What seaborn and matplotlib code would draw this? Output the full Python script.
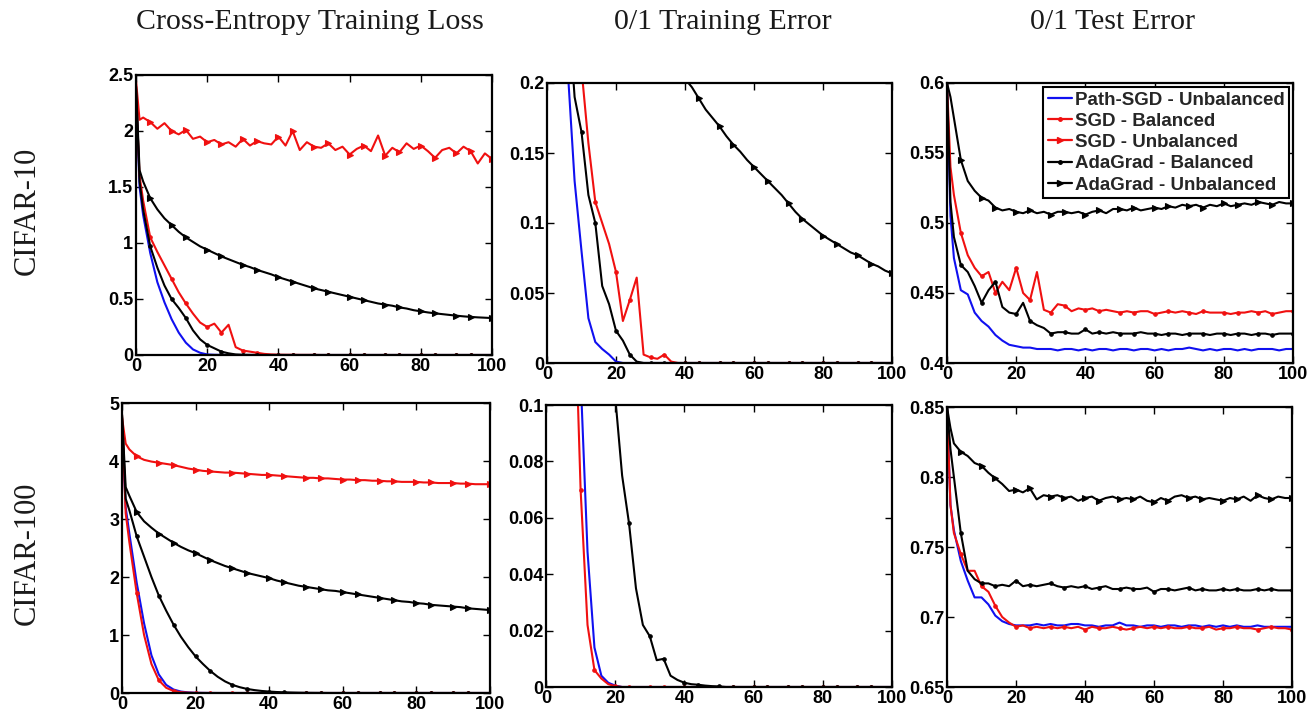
import matplotlib
matplotlib.use("Agg")
import matplotlib.pyplot as plt
from matplotlib.lines import Line2D
from matplotlib.ticker import FuncFormatter
import seaborn as sns

# ---------------- data ----------------
epochs = [0, 1, 2,
          4, 6, 8, 10, 12, 14, 16, 18, 20,
          22, 24, 26, 28, 30, 32, 34, 36, 38, 40,
          42, 44, 46, 48, 50, 52, 54, 56, 58, 60,
          62, 64, 66, 68, 70, 72, 74, 76, 78, 80,
          82, 84, 86, 88, 90, 92, 94, 96, 98, 100]

series_names = ["Path-SGD - Unbalanced", "SGD - Balanced", "SGD - Unbalanced",
                "AdaGrad - Balanced", "AdaGrad - Unbalanced"]
col_titles = ["Cross-Entropy Training Loss", "0/1 Training Error", "0/1 Test Error"]
row_labels = ["CIFAR-10", "CIFAR-100"]

# CIFAR-10, cross-entropy training loss
c10_loss_path = [2.35, 1.50, 1.25,
                 0.91, 0.65, 0.47, 0.32, 0.20, 0.11, 0.05, 0.02, 0.005,
                 0.002, 0.001, 0, 0, 0, 0, 0, 0, 0, 0,
                 0, 0, 0, 0, 0, 0, 0, 0, 0, 0,
                 0, 0, 0, 0, 0, 0, 0, 0, 0, 0,
                 0, 0, 0, 0, 0, 0, 0, 0, 0, 0]
c10_loss_sgd_bal = [2.35, 1.60, 1.38,
                    1.05, 0.92, 0.80, 0.68, 0.56, 0.46, 0.37, 0.29, 0.25,
                    0.28, 0.20, 0.27, 0.07, 0.04, 0.03, 0.02, 0.01, 0.005, 0.003,
                    0.002, 0.002, 0.001, 0.001, 0.001, 0, 0, 0, 0, 0,
                    0, 0, 0, 0, 0, 0, 0, 0, 0, 0,
                    0, 0, 0, 0, 0, 0, 0, 0, 0, 0]
c10_loss_sgd_unbal = [2.45, 2.10, 2.12,
                      2.08, 2.02, 2.07, 2.00, 1.97, 2.01, 1.93, 1.95, 1.90,
                      1.92, 1.88, 1.90, 1.86, 1.93, 1.87, 1.91, 1.89, 1.88, 1.95,
                      1.87, 2.00, 1.83, 1.90, 1.86, 1.85, 1.89, 1.83, 1.86, 1.79,
                      1.84, 1.87, 1.82, 1.96, 1.78, 1.85, 1.81, 1.89, 1.84, 1.87,
                      1.82, 1.76, 1.83, 1.85, 1.80, 1.86, 1.82, 1.71, 1.80, 1.75]
c10_loss_ada_bal = [2.40, 1.55, 1.30,
                    0.97, 0.78, 0.62, 0.50, 0.42, 0.33, 0.22, 0.14, 0.09,
                    0.06, 0.03, 0.015, 0.005, 0.002, 0.001, 0, 0, 0, 0,
                    0, 0, 0, 0, 0, 0, 0, 0, 0, 0,
                    0, 0, 0, 0, 0, 0, 0, 0, 0, 0,
                    0, 0, 0, 0, 0, 0, 0, 0, 0, 0]
c10_loss_ada_unbal = [2.40, 1.65, 1.55,
                      1.40, 1.30, 1.22, 1.16, 1.10, 1.05, 1.01, 0.97, 0.94,
                      0.91, 0.88, 0.855, 0.83, 0.805, 0.785, 0.76, 0.74, 0.72, 0.695,
                      0.675, 0.655, 0.635, 0.615, 0.595, 0.58, 0.565, 0.55, 0.535, 0.52,
                      0.505, 0.49, 0.475, 0.46, 0.45, 0.44, 0.425, 0.415, 0.40, 0.39,
                      0.38, 0.372, 0.365, 0.358, 0.351, 0.345, 0.34, 0.336, 0.333, 0.33]

# CIFAR-10, 0/1 training error (SGD - Unbalanced stays above the axis range)
c10_err_path = [0.90, 0.62, 0.50,
                0.33, 0.21, 0.13, 0.08, 0.032, 0.015, 0.010, 0.006, 0.001,
                0, 0, 0, 0, 0, 0, 0, 0, 0, 0,
                0, 0, 0, 0, 0, 0, 0, 0, 0, 0,
                0, 0, 0, 0, 0, 0, 0, 0, 0, 0,
                0, 0, 0, 0, 0, 0, 0, 0, 0, 0]
c10_err_sgd_bal = [0.90, 0.70, 0.60,
                   0.42, 0.32, 0.25, 0.21, 0.157, 0.115, 0.10, 0.085, 0.065,
                   0.03, 0.045, 0.061, 0.006, 0.004, 0.003, 0.006, 0.001, 0, 0,
                   0, 0, 0, 0, 0, 0, 0, 0, 0, 0,
                   0, 0, 0, 0, 0, 0, 0, 0, 0, 0,
                   0, 0, 0, 0, 0, 0, 0, 0, 0, 0]
c10_err_ada_bal = [0.90, 0.68, 0.55,
                   0.36, 0.26, 0.19, 0.165, 0.12, 0.10, 0.055, 0.042, 0.023,
                   0.016, 0.006, 0.001, 0, 0, 0, 0, 0, 0, 0,
                   0, 0, 0, 0, 0, 0, 0, 0, 0, 0,
                   0, 0, 0, 0, 0, 0, 0, 0, 0, 0,
                   0, 0, 0, 0, 0, 0, 0, 0, 0, 0]
c10_err_ada_unbal = [0.90, 0.70, 0.62,
                     0.52, 0.46, 0.42, 0.39, 0.36, 0.34, 0.32, 0.30, 0.285,
                     0.272, 0.261, 0.251, 0.242, 0.234, 0.226, 0.219, 0.213, 0.208, 0.203,
                     0.197, 0.189, 0.181, 0.175, 0.169, 0.162, 0.156, 0.151, 0.145, 0.14,
                     0.135, 0.13, 0.125, 0.12, 0.114, 0.108, 0.103, 0.099, 0.095, 0.091,
                     0.088, 0.085, 0.082, 0.079, 0.077, 0.074, 0.071, 0.069, 0.066, 0.064]

# CIFAR-10, 0/1 test error
c10_test_path = [0.60, 0.505, 0.475,
                 0.452, 0.449, 0.436, 0.430, 0.426, 0.420, 0.416, 0.413, 0.412,
                 0.411, 0.411, 0.410, 0.410, 0.410, 0.409, 0.410, 0.410, 0.409, 0.410,
                 0.409, 0.410, 0.410, 0.409, 0.410, 0.410, 0.409, 0.410, 0.410, 0.409,
                 0.410, 0.409, 0.410, 0.410, 0.411, 0.410, 0.409, 0.410, 0.409, 0.410,
                 0.410, 0.409, 0.410, 0.409, 0.410, 0.410, 0.410, 0.409, 0.410, 0.410]
c10_test_sgd_bal = [0.60, 0.54, 0.52,
                    0.493, 0.477, 0.468, 0.462, 0.465, 0.450, 0.458, 0.452, 0.468,
                    0.450, 0.445, 0.465, 0.438, 0.436, 0.442, 0.441, 0.437, 0.439, 0.438,
                    0.439, 0.437, 0.438, 0.437, 0.436, 0.437, 0.436, 0.437, 0.437, 0.435,
                    0.436, 0.437, 0.436, 0.437, 0.436, 0.435, 0.437, 0.436, 0.436, 0.436,
                    0.435, 0.436, 0.436, 0.437, 0.436, 0.437, 0.435, 0.436, 0.437, 0.437]
c10_test_ada_bal = [0.60, 0.515, 0.49,
                    0.47, 0.465, 0.455, 0.443, 0.452, 0.458, 0.44, 0.436, 0.435,
                    0.443, 0.43, 0.427, 0.425, 0.421, 0.422, 0.422, 0.421, 0.421, 0.424,
                    0.421, 0.422, 0.421, 0.422, 0.421, 0.421, 0.421, 0.422, 0.421, 0.421,
                    0.420, 0.421, 0.421, 0.420, 0.421, 0.421, 0.421, 0.420, 0.421, 0.421,
                    0.420, 0.421, 0.421, 0.420, 0.421, 0.421, 0.420, 0.421, 0.421, 0.421]
c10_test_ada_unbal = [0.60, 0.59, 0.575,
                      0.545, 0.530, 0.523, 0.518, 0.516, 0.511, 0.509, 0.510, 0.508,
                      0.507, 0.509, 0.507, 0.508, 0.506, 0.508, 0.508, 0.507, 0.508, 0.506,
                      0.508, 0.509, 0.507, 0.510, 0.510, 0.509, 0.511, 0.509, 0.510, 0.511,
                      0.510, 0.512, 0.511, 0.513, 0.512, 0.513, 0.511, 0.513, 0.512, 0.514,
                      0.512, 0.513, 0.514, 0.513, 0.515, 0.514, 0.513, 0.515, 0.514, 0.514]

# CIFAR-100, cross-entropy training loss
c100_loss_path = [4.60, 3.20, 2.75,
                  1.90, 1.20, 0.65, 0.32, 0.14, 0.06, 0.025, 0.01, 0.004,
                  0.002, 0.001, 0, 0, 0, 0, 0, 0, 0, 0,
                  0, 0, 0, 0, 0, 0, 0, 0, 0, 0,
                  0, 0, 0, 0, 0, 0, 0, 0, 0, 0,
                  0, 0, 0, 0, 0, 0, 0, 0, 0, 0]
c100_loss_sgd_bal = [4.80, 3.10, 2.60,
                     1.72, 1.00, 0.50, 0.22, 0.09, 0.035, 0.015, 0.006, 0.002,
                     0.001, 0, 0, 0, 0, 0, 0, 0, 0, 0,
                     0, 0, 0, 0, 0, 0, 0, 0, 0, 0,
                     0, 0, 0, 0, 0, 0, 0, 0, 0, 0,
                     0, 0, 0, 0, 0, 0, 0, 0, 0, 0]
c100_loss_sgd_unbal = [4.75, 4.30, 4.20,
                       4.08, 4.02, 3.99, 3.97, 3.95, 3.93, 3.90, 3.87, 3.85,
                       3.83, 3.82, 3.81, 3.80, 3.80, 3.79, 3.78, 3.77, 3.76, 3.76,
                       3.75, 3.74, 3.73, 3.72, 3.71, 3.71, 3.70, 3.70, 3.69, 3.68,
                       3.68, 3.67, 3.67, 3.66, 3.66, 3.65, 3.65, 3.64, 3.64, 3.64,
                       3.63, 3.63, 3.62, 3.62, 3.62, 3.61, 3.61, 3.60, 3.60, 3.60]
c100_loss_ada_bal = [4.80, 3.35, 3.15,
                     2.70, 2.35, 2.00, 1.68, 1.42, 1.18, 0.97, 0.79, 0.63,
                     0.50, 0.38, 0.28, 0.20, 0.14, 0.10, 0.07, 0.05, 0.035, 0.025,
                     0.017, 0.012, 0.008, 0.005, 0.003, 0.002, 0.001, 0, 0, 0,
                     0, 0, 0, 0, 0, 0, 0, 0, 0, 0,
                     0, 0, 0, 0, 0, 0, 0, 0, 0, 0]
c100_loss_ada_unbal = [4.80, 3.55, 3.40,
                       3.12, 2.96, 2.85, 2.75, 2.67, 2.59, 2.52, 2.46, 2.41,
                       2.35, 2.29, 2.24, 2.19, 2.15, 2.11, 2.07, 2.04, 2.01, 1.98,
                       1.94, 1.91, 1.88, 1.85, 1.83, 1.81, 1.79, 1.77, 1.76, 1.74,
                       1.72, 1.70, 1.68, 1.66, 1.64, 1.62, 1.60, 1.58, 1.57, 1.55,
                       1.54, 1.52, 1.51, 1.50, 1.49, 1.48, 1.46, 1.45, 1.44, 1.43]

# CIFAR-100, 0/1 training error (unbalanced runs stay above the axis range)
c100_err_path = [0.99, 0.90, 0.80,
                 0.55, 0.33, 0.17, 0.11, 0.048, 0.014, 0.004, 0.0015, 0.0005,
                 0, 0, 0, 0, 0, 0, 0, 0, 0, 0,
                 0, 0, 0, 0, 0, 0, 0, 0, 0, 0,
                 0, 0, 0, 0, 0, 0, 0, 0, 0, 0,
                 0, 0, 0, 0, 0, 0, 0, 0, 0, 0]
c100_err_sgd_bal = [0.99, 0.88, 0.78,
                    0.52, 0.30, 0.15, 0.07, 0.022, 0.006, 0.003, 0.001, 0.0003,
                    0, 0, 0, 0, 0, 0, 0, 0, 0, 0,
                    0, 0, 0, 0, 0, 0, 0, 0, 0, 0,
                    0, 0, 0, 0, 0, 0, 0, 0, 0, 0,
                    0, 0, 0, 0, 0, 0, 0, 0, 0, 0]
c100_err_ada_bal = [0.99, 0.95, 0.92,
                    0.80, 0.65, 0.50, 0.38, 0.28, 0.21, 0.16, 0.125, 0.103,
                    0.075, 0.058, 0.035, 0.022, 0.018, 0.0095, 0.010, 0.004, 0.0025, 0.0015,
                    0.001, 0.0008, 0.0005, 0.0003, 0.0002, 0, 0, 0, 0, 0,
                    0, 0, 0, 0, 0, 0, 0, 0, 0, 0,
                    0, 0, 0, 0, 0, 0, 0, 0, 0, 0]

# CIFAR-100, 0/1 test error
c100_test_path = [0.85, 0.78, 0.762,
                  0.74, 0.726, 0.714, 0.714, 0.709, 0.701, 0.697, 0.695, 0.694,
                  0.694, 0.694, 0.695, 0.694, 0.695, 0.694, 0.694, 0.695, 0.695, 0.694,
                  0.694, 0.693, 0.694, 0.694, 0.696, 0.694, 0.694, 0.693, 0.694, 0.694,
                  0.693, 0.694, 0.694, 0.693, 0.694, 0.694, 0.693, 0.694, 0.693, 0.694,
                  0.693, 0.694, 0.693, 0.693, 0.694, 0.693, 0.693, 0.693, 0.693, 0.693]
c100_test_sgd_bal = [0.85, 0.78, 0.76,
                     0.745, 0.733, 0.733, 0.722, 0.718, 0.708, 0.700, 0.696, 0.693,
                     0.694, 0.692, 0.693, 0.692, 0.693, 0.692, 0.693, 0.692, 0.693, 0.691,
                     0.693, 0.692, 0.692, 0.693, 0.692, 0.691, 0.692, 0.693, 0.692, 0.693,
                     0.692, 0.693, 0.692, 0.692, 0.693, 0.692, 0.692, 0.693, 0.691, 0.692,
                     0.692, 0.693, 0.692, 0.692, 0.691, 0.692, 0.693, 0.692, 0.692, 0.691]
c100_test_ada_bal = [0.85, 0.82, 0.80,
                     0.76, 0.733, 0.727, 0.724, 0.724, 0.722, 0.723, 0.722, 0.726,
                     0.722, 0.723, 0.722, 0.723, 0.724, 0.722, 0.721, 0.722, 0.721, 0.722,
                     0.720, 0.721, 0.722, 0.720, 0.720, 0.721, 0.720, 0.720, 0.721, 0.718,
                     0.720, 0.720, 0.719, 0.720, 0.721, 0.719, 0.720, 0.719, 0.719, 0.720,
                     0.719, 0.720, 0.719, 0.719, 0.720, 0.719, 0.720, 0.719, 0.719, 0.719]
c100_test_ada_unbal = [0.85, 0.835, 0.824,
                       0.818, 0.815, 0.810, 0.808, 0.803, 0.799, 0.795, 0.790, 0.791,
                       0.789, 0.792, 0.784, 0.787, 0.786, 0.787, 0.785, 0.786, 0.783, 0.785,
                       0.786, 0.783, 0.785, 0.786, 0.784, 0.785, 0.784, 0.786, 0.783, 0.782,
                       0.785, 0.783, 0.786, 0.787, 0.785, 0.786, 0.784, 0.785, 0.784, 0.783,
                       0.785, 0.784, 0.786, 0.783, 0.787, 0.785, 0.784, 0.786, 0.785, 0.785]

y_ticks = {
    (0, 0): [0, 0.5, 1, 1.5, 2, 2.5],
    (0, 1): [0, 0.05, 0.1, 0.15, 0.2],
    (0, 2): [0.4, 0.45, 0.5, 0.55, 0.6],
    (1, 0): [0, 1, 2, 3, 4, 5],
    (1, 1): [0, 0.02, 0.04, 0.06, 0.08, 0.1],
    (1, 2): [0.65, 0.7, 0.75, 0.8, 0.85],
}
x_ticks = [0, 20, 40, 60, 80, 100]

panels = {
    (0, 0): {series_names[0]: c10_loss_path, series_names[1]: c10_loss_sgd_bal,
             series_names[2]: c10_loss_sgd_unbal, series_names[3]: c10_loss_ada_bal,
             series_names[4]: c10_loss_ada_unbal},
    (0, 1): {series_names[0]: c10_err_path, series_names[1]: c10_err_sgd_bal,
             series_names[3]: c10_err_ada_bal, series_names[4]: c10_err_ada_unbal},
    (0, 2): {series_names[0]: c10_test_path, series_names[1]: c10_test_sgd_bal,
             series_names[3]: c10_test_ada_bal, series_names[4]: c10_test_ada_unbal},
    (1, 0): {series_names[0]: c100_loss_path, series_names[1]: c100_loss_sgd_bal,
             series_names[2]: c100_loss_sgd_unbal, series_names[3]: c100_loss_ada_bal,
             series_names[4]: c100_loss_ada_unbal},
    (1, 1): {series_names[0]: c100_err_path, series_names[1]: c100_err_sgd_bal,
             series_names[3]: c100_err_ada_bal},
    (1, 2): {series_names[0]: c100_test_path, series_names[1]: c100_test_sgd_bal,
             series_names[3]: c100_test_ada_bal, series_names[4]: c100_test_ada_unbal},
}

for key, d in panels.items():
    for name, vals in d.items():
        if len(vals) != len(epochs):
            raise ValueError(f"{key} {name}: {len(vals)} values")

# ---------------- style ----------------
sns.set_style("ticks")
plt.rcParams["font.family"] = ["Liberation Sans", "DejaVu Sans"]

BLUE, RED, BLACK = "#1010f0", "#f01010", "#000000"
styles = {
    series_names[0]: dict(color=BLUE, marker=None),
    series_names[1]: dict(color=RED, marker="."),
    series_names[2]: dict(color=RED, marker=">"),
    series_names[3]: dict(color=BLACK, marker="."),
    series_names[4]: dict(color=BLACK, marker=">"),
}
mark_idx = [i for i, e in enumerate(epochs) if e > 0 and e % 10 in (0, 4)]


def marker_size(m):
    return 4.8 if m == ">" else 5


W, H = 1310, 715
boxes = {  # left, top, right, bottom in pixels
    (0, 0): (136, 75, 492, 355),
    (0, 1): (547, 83, 892, 363),
    (0, 2): (947, 83, 1293, 363),
    (1, 0): (122, 403, 490, 693),
    (1, 1): (546, 405, 892, 687),
    (1, 2): (947, 407, 1292, 687),
}

fig = plt.figure(figsize=(W / 100, H / 100), dpi=100)
fmt = FuncFormatter(lambda v, p: f"{round(v, 4):g}")

axes = {}
for key, (l, t, r, b) in boxes.items():
    ax = fig.add_axes([l / W, 1 - b / H, (r - l) / W, (b - t) / H])
    axes[key] = ax
    for name, vals in panels[key].items():
        st = styles[name]
        kw = dict(color=st["color"], linewidth=1.5, label=name)
        if st["marker"] is not None:
            kw.update(marker=st["marker"], markevery=mark_idx,
                      markersize=marker_size(st["marker"]),
                      markeredgewidth=0.8,
                      markeredgecolor=st["color"],
                      markerfacecolor=st["color"])
        sns.lineplot(x=epochs, y=vals, ax=ax, legend=False, **kw)
    yt = y_ticks[key]
    ax.set_xlim(0, 100)
    ax.set_ylim(yt[0], yt[-1])
    ax.set_xticks(x_ticks)
    ax.set_yticks(yt)
    ax.xaxis.set_major_formatter(fmt)
    ax.yaxis.set_major_formatter(fmt)
    ax.set_xlabel("")
    ax.set_ylabel("")
    ax.tick_params(direction="in", top=True, right=True, length=5, width=1.0,
                   labelsize=13, pad=2, colors="black")
    for lab in ax.get_xticklabels() + ax.get_yticklabels():
        lab.set_fontweight("bold")
    for sp in ax.spines.values():
        sp.set_visible(True)
        sp.set_linewidth(1.6)
        sp.set_color("black")

# legend on the CIFAR-10 test-error panel
handles = []
for name in series_names:
    st = styles[name]
    handles.append(Line2D([], [], color=st["color"], linewidth=1.6,
                          marker=st["marker"] if st["marker"] else None,
                          markersize=marker_size(st["marker"]),
                          markeredgecolor=st["color"], markerfacecolor=st["color"]))
leg = axes[(0, 2)].legend(handles, series_names, loc="upper right",
                          prop={"weight": "bold", "size": 13.5},
                          handlelength=1.3, handletextpad=0.15, labelspacing=0.22,
                          borderpad=0.25, borderaxespad=0.2, fancybox=False,
                          framealpha=1, edgecolor="black")
leg.get_frame().set_linewidth(1.5)

serif = ["Liberation Serif", "DejaVu Serif"]
col_x = [310, 723, 1112]
for x, t in zip(col_x, col_titles):
    fig.text(x / W, 1 - 22 / H, t, ha="center", va="center", family=serif,
             fontsize=21.5, color="#1a1a1a")
row_y = [211, 553]
for y, t in zip(row_y, row_labels):
    fig.text(27 / W, 1 - y / H, t, ha="center", va="center", rotation=90,
             family=serif, fontsize=22, color="#1a1a1a")

fig.savefig("out.png", dpi=100)
